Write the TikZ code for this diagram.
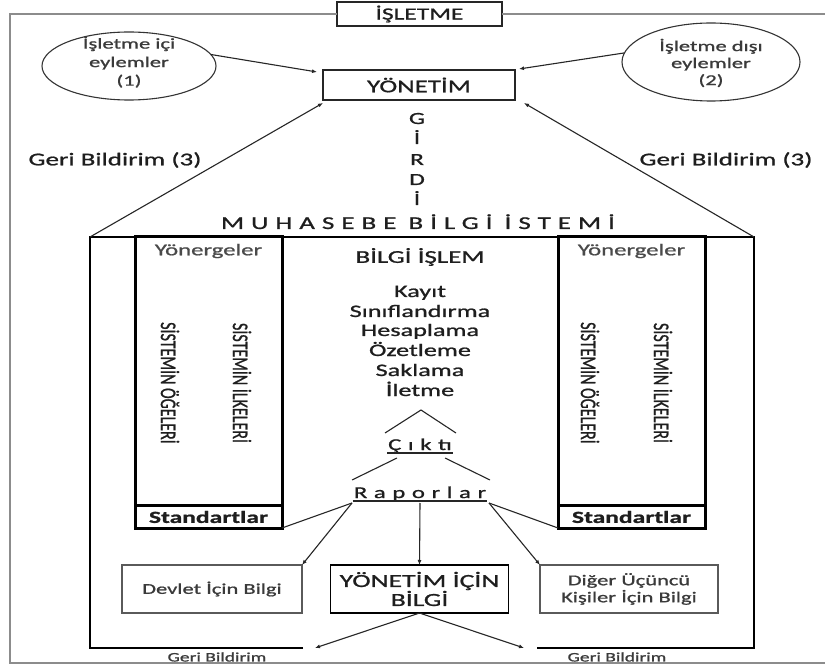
\documentclass[tikz,border=0pt]{standalone}
\usepackage{graphicx}
\usepackage{fontspec}
\setmainfont{Carlito}[FakeStretch=1.5,FakeBold=1]
\newfontfamily\narrowfont{Carlito}[FakeBold=1]
\usetikzlibrary{arrows.meta,shapes.geometric,calc}
\newcommand\setfs[1]{\fontsize{#1}{#1}\selectfont}
\newcommand\spaced[1]{\addfontfeature{LetterSpace=#1}}
\definecolor{ink}{HTML}{1E1E1E}
\definecolor{soft}{HTML}{3A3A3A}
\definecolor{mid}{HTML}{4A4A4A}
\definecolor{framegray}{HTML}{8C8C8C}
\definecolor{boxgray}{HTML}{5A5A5A}

\begin{document}
\begin{tikzpicture}[x=1pt,y=-1pt,
  every node/.style={inner sep=0pt, outer sep=0pt, text=ink},
  frame/.style={draw=framegray, line width=1.3pt},
  mbs/.style={draw=black, line width=2.4pt, line join=miter},
  col/.style={draw=black, line width=3pt, rectangle},
  arr/.style={draw=black!85, line width=1.1pt, -{Latex[length=5pt,width=4pt]}},
  thin/.style={draw=black!85, line width=1.1pt},
  plainbox/.style={draw=black!85, line width=1.1pt, rectangle},
  graybox/.style={draw=boxgray, line width=1.1pt, rectangle},
  oval/.style={ellipse, draw=black!80, line width=1.1pt},
  sidetext/.style={rotate=-90}
]
\useasboundingbox (0,0) rectangle (825,668);
\fill[white] (0,0) rectangle (825,668);

% company frame and title
\node[plainbox, fill=white, minimum width=165pt, minimum height=24pt, font=\setfs{17}] (isletme) at (419.5,14) {İŞLETME};
\coordinate (otl) at (10,14);
\coordinate (obl) at (10,663);
\coordinate (obr) at (830,663);
\coordinate (otr) at (830,14);
\draw[frame] (isletme.west) -- (otl) -- (obl) -- (obr);
\draw[frame] (isletme.east) -- (otr);

% management and outside influences
\node[plainbox, minimum width=192pt, minimum height=30pt, font=\setfs{18}] (yon) at (419,85) {YÖNETİM};
\node[oval, minimum width=174pt, minimum height=68pt] (ic) at (129,66) {};
\node[align=center, text=soft, font={\fontsize{15}{18.5}\selectfont}] (ictxt) at (129,62) {İşletme içi\\eylemler\\(1)};
\node[oval, minimum width=178pt, minimum height=78pt] (dis) at (711,62) {};
\node[align=center, text=soft, font={\fontsize{15}{17}\selectfont}] (distxt) at (711,63) {İşletme dışı\\eylemler\\(2)};
\draw[arr] (ic.8) -- ($(yon.north west)+(-6,2)$);
\draw[arr] (dis.174) -- ($(yon.north east)+(4,-1)$);

% input letters
\foreach \ch/\yy [count=\i] in {G/124,İ/144,R/165,D/185,İ/205}
  \node[anchor=base, font=\setfs{17}] (girdi\i) at (417,\yy) {\ch};

% feedback labels
\node[font=\setfs{18}] (gbl) at (115,160) {Geri Bildirim (3)};
\node[font=\setfs{18}] (gbr) at (726,160) {Geri Bildirim (3)};

% accounting information system frame
\coordinate (mtl) at (90,237);
\coordinate (mtr) at (754,237);
\coordinate (mbl) at (90,648);
\coordinate (mbr) at (754,648);
\coordinate (gapL) at (303,648);
\coordinate (gapR) at (537,648);
\draw[mbs] (gapL) -- (mbl) -- (mtl) -- (mtr) -- (mbr) -- (gapR);
\draw[arr] (mtl) -- ($(yon.south west)+(0,3)$);
\draw[arr] (mtr) -- ($(yon.south east)+(9,3)$);
\node[anchor=base, font=\setfs{18}] (mbstitle) at (418,229) {\spaced{39}MUHASEBE\hspace{12pt}BİLGİ\hspace{12pt}İSTEMİ};

% left and right columns
\foreach \nm/\xx in {lcol/135,rcol/558}{
  \node[col, anchor=north west, minimum width=147pt, minimum height=291pt] (\nm) at (\xx,237) {};
  \draw[col] ($(\nm.south west)+(0,-23)$) -- ($(\nm.south east)+(0,-23)$);
}
\node[text=mid, font=\setfs{16.5}] (lyon) at (208.5,251) {Yönergeler};
\node[text=mid, font=\setfs{16.5}] (ryon) at (631.5,251) {Yönergeler};
\node[font=\setfs{17}\bfseries] (lstd) at (208.5,517) {Standartlar};
\node[font=\setfs{17}\bfseries] (rstd) at (631.5,517) {Standartlar};
\node[sidetext] (loge) at (170,383) {\narrowfont\scalebox{1}[1.4]{\setfs{16}SİSTEMİN ÖĞELERİ}};
\node[sidetext] (lilk) at (242,383) {\narrowfont\scalebox{1}[1.4]{\setfs{16}SİSTEMİN İLKELERİ}};
\node[sidetext] (roge) at (590,383) {\narrowfont\scalebox{1}[1.4]{\setfs{16}SİSTEMİN ÖĞELERİ}};
\node[sidetext] (rilk) at (663,383) {\narrowfont\scalebox{1}[1.4]{\setfs{16}SİSTEMİN İLKELERİ}};

% data processing steps
\node[font=\setfs{18}] (bislem) at (420,257) {BİLGİ İŞLEM};
\foreach \word/\yy [count=\i] in {Kayıt/297,Sınıflandırma/317,Hesaplama/336,Özetleme/356,Saklama/376,İletme/396}
  \node[anchor=base, font=\setfs{17.5}] (step\i) at (420,\yy) {\word};

% output and reports
\coordinate (capL) at (385,433);
\coordinate (capT) at (421,410);
\coordinate (capR) at (456,433);
\draw[thin] (capL) -- (capT) -- (capR);
\node[anchor=base, font=\setfs{16.5}] (cikti) at (420,450) {\spaced{40}Çıktı};
\draw[thin] ($(cikti.base west)+(-1,3)$) -- ($(cikti.base east)+(1,3)$);
\coordinate (ckL) at (397,458);
\coordinate (ckR) at (445,458);
\coordinate (rpL) at (352,480);
\coordinate (rpR) at (490,480);
\draw[thin] (ckL) -- (rpL);
\draw[thin] (ckR) -- (rpR);
\node[anchor=base, font=\setfs{16.5}] (rapor) at (420,498) {\spaced{40}Raporlar};
\draw[thin] ($(rapor.base west)+(-1,3)$) -- ($(rapor.base east)+(1,3)$);
\coordinate (rapL) at (352,503);
\coordinate (rapM) at (420,503);
\coordinate (rapR) at (489,503);

% information users
\node[graybox, minimum width=180pt, minimum height=48pt, text=soft, font=\setfs{15}] (devlet) at (212,589) {Devlet İçin Bilgi};
\node[plainbox, draw=black, minimum width=178pt, minimum height=48pt, align=center, font={\fontsize{18.5}{19}\selectfont}] (yib) at (419.5,589) {YÖNETİM İÇİN\\BİLGİ};
\node[graybox, minimum width=178pt, minimum height=48pt, align=center, text=soft, font={\fontsize{15}{17}\selectfont}] (diger) at (629,589) {Diğer Üçüncü\\Kişiler İçin Bilgi};

\draw[thin] (rapL) -- (lcol.south east);
\draw[thin] (rapR) -- (rcol.south west);
\draw[arr] (rapL) -- (devlet.north east);
\draw[arr] (rapM) -- (yib.north);
\draw[arr] (rapR) -- (diger.north west);

% feedback at the bottom
\coordinate (fbL) at (315,648);
\coordinate (fbR) at (524,648);
\draw[arr] (yib.south) -- (fbL);
\draw[arr] (yib.south) -- (fbR);
\node[text=soft, font=\setfs{13}] (gbsl) at (217,657) {Geri Bildirim};
\node[text=soft, font=\setfs{13}] (gbsr) at (617,657) {Geri Bildirim};
\end{tikzpicture}
\end{document}
